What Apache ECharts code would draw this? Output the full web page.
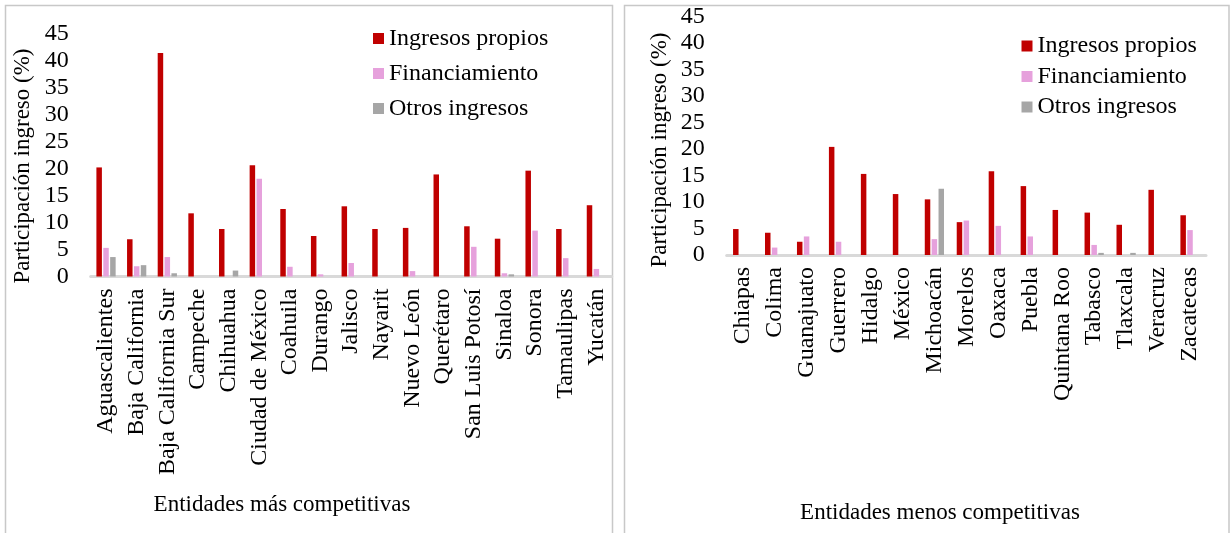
<!DOCTYPE html>
<html>
<head>
<meta charset="utf-8">
<script src="https://cdn.jsdelivr.net/npm/echarts@6/dist/echarts.min.js"></script>
<style>
html,body{margin:0;padding:0;background:#fff;}
#chart{width:1231px;height:533px;}
</style>
</head>
<body>
<div id="chart"></div>
<script>
// ---- Data ----
const seriesNames = ['Ingresos propios', 'Financiamiento', 'Otros ingresos'];

const catMas = ['Aguascalientes', 'Baja California', 'Baja California Sur', 'Campeche', 'Chihuahua',
  'Ciudad de México', 'Coahuila', 'Durango', 'Jalisco', 'Nayarit', 'Nuevo León', 'Querétaro',
  'San Luis Potosí', 'Sinaloa', 'Sonora', 'Tamaulipas', 'Yucatán'];
const propiosMas = [20.2, 6.9, 41.4, 11.7, 8.8, 20.6, 12.5, 7.5, 13.0, 8.8, 9.0, 18.9, 9.3, 7.0, 19.6, 8.8, 13.2];
const financMas  = [5.3, 1.9, 3.6, 0, 0, 18.1, 1.8, 0.4, 2.5, 0, 1.0, 0, 5.5, 0.6, 8.5, 3.4, 1.4];
const otrosMas   = [3.6, 2.1, 0.6, 0, 1.1, 0, 0, 0, 0, 0, 0, 0, 0, 0.4, 0, 0, 0];

const catMenos = ['Chiapas', 'Colima', 'Guanajuato', 'Guerrero', 'Hidalgo', 'México', 'Michoacán',
  'Morelos', 'Oaxaca', 'Puebla', 'Quintana Roo', 'Tabasco', 'Tlaxcala', 'Veracruz', 'Zacatecas'];
const propiosMenos = [4.9, 4.2, 2.5, 20.4, 15.3, 11.5, 10.5, 6.2, 15.8, 13.0, 8.5, 8.0, 5.7, 12.3, 7.5];
const financMenos  = [0, 1.4, 3.5, 2.5, 0, 0, 3.0, 6.5, 5.5, 3.5, 0, 1.9, 0, 0, 4.7];
const otrosMenos   = [0, 0, 0, 0, 0, 0, 12.5, 0, 0, 0, 0, 0.4, 0.4, 0, 0];

const yTicksMax = 45;
const yTickStep = 5;

// ---- Style ----
const FONT = '"Liberation Serif", "Times New Roman", serif';
const colors = ['#C00000', '#E6A1DC', '#A6A6A6'];
const FS = 24;
const FS_TITLE = 23;

function xAxisCfg(gridIndex, cats) {
  return {
    type: 'category', gridIndex: gridIndex, data: cats,
    axisLine: { lineStyle: { color: '#d9d9d9', width: 3 } },
    axisTick: { show: false },
    axisLabel: { interval: 0, rotate: 90, margin: 12, color: '#000', fontFamily: FONT, fontSize: FS }
  };
}
function yAxisCfg(gridIndex) {
  return {
    type: 'value', gridIndex: gridIndex, min: 0, max: yTicksMax, interval: yTickStep,
    axisLine: { show: false }, axisTick: { show: false }, splitLine: { show: false },
    axisLabel: { margin: 22, color: '#000', fontFamily: FONT, fontSize: FS }
  };
}
function barSeries(name, idx, data, color) {
  return {
    name: name, type: 'bar', xAxisIndex: idx, yAxisIndex: idx, data: data,
    barWidth: 5.5, barGap: '25%', itemStyle: { color: color }
  };
}
function legendCfg(left, top, gap) {
  return {
    orient: 'vertical', left: left, top: top, padding: 0, itemGap: gap,
    itemWidth: 11, itemHeight: 11, icon: 'rect', data: seriesNames,
    textStyle: { color: '#000', fontFamily: FONT, fontSize: FS, lineHeight: 24 }
  };
}
function vText(x, y, txt) {
  return { type: 'text', x: x, y: y, rotation: Math.PI / 2,
    style: { text: txt, font: FS_TITLE + 'px ' + FONT, fill: '#000', textAlign: 'center', textVerticalAlign: 'middle' } };
}
function hText(x, y, txt) {
  return { type: 'text', x: x, y: y,
    style: { text: txt, font: FS_TITLE + 'px ' + FONT, fill: '#000', textAlign: 'center', textVerticalAlign: 'middle' } };
}

const chart = echarts.init(document.getElementById('chart'), null, { renderer: 'canvas' });
chart.setOption({
  backgroundColor: '#fff',
  animation: false,
  color: colors,
  grid: [
    { left: 90.7, right: 1231 - 611.7, top: 33.5, height: 243 },
    { left: 726.7, right: 25, top: 16.5, height: 238.5 }
  ],
  xAxis: [xAxisCfg(0, catMas), xAxisCfg(1, catMenos)],
  yAxis: [yAxisCfg(0), yAxisCfg(1)],
  legend: [legendCfg(373, 26.5, 11), legendCfg(1021.5, 34, 6.5)],
  series: [
    barSeries(seriesNames[0], 0, propiosMas, colors[0]),
    barSeries(seriesNames[1], 0, financMas, colors[1]),
    barSeries(seriesNames[2], 0, otrosMas, colors[2]),
    barSeries(seriesNames[0], 1, propiosMenos, colors[0]),
    barSeries(seriesNames[1], 1, financMenos, colors[1]),
    barSeries(seriesNames[2], 1, otrosMenos, colors[2])
  ],
  graphic: [
    { type: 'rect', shape: { x: 5.5, y: 5.5, width: 607, height: 560 }, style: { fill: null, stroke: '#c8c8c8', lineWidth: 1.5 } },
    { type: 'rect', shape: { x: 624.5, y: 5.5, width: 604.5, height: 560 }, style: { fill: null, stroke: '#c8c8c8', lineWidth: 1.5 } },
    vText(23, 166, 'Participación ingreso (%)'),
    vText(660, 150, 'Participación ingreso (%)'),
    hText(282, 505, 'Entidades más competitivas'),
    hText(940, 513, 'Entidades menos competitivas')
  ]
});
</script>
</body>
</html>
